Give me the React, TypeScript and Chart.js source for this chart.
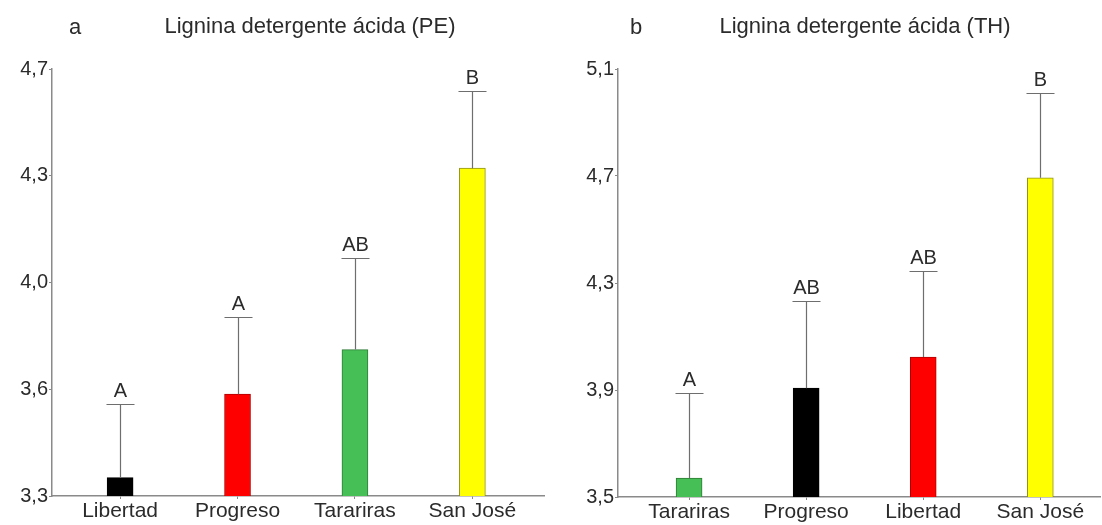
import React, { useEffect, useRef } from "react";
import { Chart, registerables } from "chart.js";

Chart.register(...registerables);

// ---------- Data ----------
const panelLetterPE = "a";
const titlePE = "Lignina detergente ácida (PE)";
const categoriesPE = ["Libertad", "Progreso", "Tarariras", "San José"];
const meansPE = [3.36, 3.634, 3.78, 4.375];
const upperPE = [3.602, 3.887, 4.08, 4.628];
const lettersPE = ["A", "A", "AB", "B"];
const yTickValuesPE = [3.3, 3.65, 4.0, 4.35, 4.7];
const yTickLabelsPE = ["3,3", "3,6", "4,0", "4,3", "4,7"];
const colorsPE = ["#000000", "#ff0000", "#46c056", "#ffff00"];
const bordersPE = ["#000000", "#b00000", "#2f7a35", "#8f8f1a"];

const panelLetterTH = "b";
const titleTH = "Lignina detergente ácida (TH)";
const categoriesTH = ["Tarariras", "Progreso", "Libertad", "San José"];
const meansTH = [3.571, 3.907, 4.023, 4.693];
const upperTH = [3.889, 4.233, 4.345, 5.01];
const lettersTH = ["A", "AB", "AB", "B"];
const yTickValuesTH = [3.5, 3.9, 4.3, 4.7, 5.1];
const yTickLabelsTH = ["3,5", "3,9", "4,3", "4,7", "5,1"];
const colorsTH = ["#46c056", "#000000", "#ff0000", "#ffff00"];
const bordersTH = ["#2f7a35", "#000000", "#b00000", "#8f8f1a"];

const FONT = "'Liberation Sans', Arial, sans-serif";
const AXIS = "#8a8a8a";
const TEXT = "#2b2b2b";

interface PanelCfg {
  letter: string;
  title: string;
  categories: string[];
  means: number[];
  upper: number[];
  letters: string[];
  yTicks: number[];
  yLabels: string[];
  colors: string[];
  borders: string[];
  xMin: number;
  xMax: number;
  yAxisWidth: number;
  xAxisHeight: number;
  padRight: number;
  letterX: number;
  titleX: number;
}

function makeChart(canvas: HTMLCanvasElement, p: PanelCfg) {
  const errPlugin = {
    id: "errbars",
    afterDatasetsDraw(chart: any) {
      const ctx = chart.ctx;
      const meta = chart.getDatasetMeta(0);
      const ys = chart.scales.y;
      ctx.save();
      meta.data.forEach((el: any, i: number) => {
        const top = Math.round(ys.getPixelForValue(p.upper[i])) + 0.5;
        const x = Math.round(el.x) + 0.5;
        ctx.strokeStyle = "#6e6e6e";
        ctx.lineWidth = 1.2;
        ctx.beginPath();
        ctx.moveTo(x, el.y);
        ctx.lineTo(x, top);
        ctx.moveTo(x - 14, top);
        ctx.lineTo(x + 14, top);
        ctx.stroke();
        ctx.fillStyle = TEXT;
        ctx.font = `20px ${FONT}`;
        ctx.textAlign = "center";
        ctx.textBaseline = "alphabetic";
        ctx.fillText(p.letters[i], x, top - 8);
      });
      ctx.restore();
    },
    afterDraw(chart: any) {
      const ctx = chart.ctx;
      ctx.save();
      ctx.fillStyle = TEXT;
      ctx.textBaseline = "alphabetic";
      ctx.textAlign = "center";
      ctx.font = `22px ${FONT}`;
      ctx.fillText(p.letter, p.letterX, 34);
      ctx.fillText(p.title, p.titleX, 33);
      ctx.restore();
    },
  };

  return new Chart(canvas, {
    type: "bar",
    data: {
      datasets: [
        {
          data: p.means.map((v, i) => ({ x: i, y: v })),
          backgroundColor: p.colors,
          borderColor: p.borders,
          borderWidth: 1,
          barThickness: 26,
        },
      ],
    },
    options: {
      animation: false,
      responsive: false,
      maintainAspectRatio: false,
      layout: { padding: { top: 69, right: p.padRight, left: 0, bottom: 0 } },
      plugins: { legend: { display: false }, tooltip: { enabled: false }, title: { display: false } },
      scales: {
        x: {
          type: "linear",
          offset: false,
          min: p.xMin,
          max: p.xMax,
          afterBuildTicks: (s: any) => {
            s.ticks = p.categories.map((_, i) => ({ value: i }));
          },
          afterFit: (s: any) => {
            s.height = p.xAxisHeight;
          },
          ticks: {
            callback: (v: any) => p.categories[v as number] ?? "",
            color: TEXT,
            font: { family: FONT, size: 21 },
            padding: 0,
            maxRotation: 0,
            autoSkip: false,
          },
          grid: { offset: false, drawOnChartArea: false, drawTicks: true, tickLength: 3, color: AXIS },
          border: { display: true, color: AXIS, width: 1.5 },
        },
        y: {
          min: p.yTicks[0],
          max: p.yTicks[p.yTicks.length - 1],
          afterBuildTicks: (s: any) => {
            s.ticks = p.yTicks.map((v) => ({ value: v }));
          },
          afterFit: (s: any) => {
            s.width = p.yAxisWidth;
          },
          ticks: {
            callback: (_v: any, i: number) => p.yLabels[i],
            color: TEXT,
            font: { family: FONT, size: 20 },
            padding: 1,
          },
          grid: { drawOnChartArea: false, drawTicks: true, tickLength: 3, color: AXIS },
          border: { display: true, color: AXIS, width: 1.5 },
        },
      },
    },
    plugins: [errPlugin],
  } as any);
}

const panelPE: PanelCfg = {
  letter: panelLetterPE,
  title: titlePE,
  categories: categoriesPE,
  means: meansPE,
  upper: upperPE,
  letters: lettersPE,
  yTicks: yTickValuesPE,
  yLabels: yTickLabelsPE,
  colors: colorsPE,
  borders: bordersPE,
  xMin: -0.58,
  xMax: 3.61,
  yAxisWidth: 52,
  xAxisHeight: 29,
  padRight: 7,
  letterX: 75,
  titleX: 310,
};

const panelTH: PanelCfg = {
  letter: panelLetterTH,
  title: titleTH,
  categories: categoriesTH,
  means: meansTH,
  upper: upperTH,
  letters: lettersTH,
  yTicks: yTickValuesTH,
  yLabels: yTickLabelsTH,
  colors: colorsTH,
  borders: bordersTH,
  xMin: -0.607,
  xMax: 3.51,
  yAxisWidth: 67,
  xAxisHeight: 28,
  padRight: 2,
  letterX: 85,
  titleX: 314,
};

export default function App() {
  const leftRef = useRef<HTMLCanvasElement>(null);
  const rightRef = useRef<HTMLCanvasElement>(null);

  useEffect(() => {
    const c1 = makeChart(leftRef.current!, panelPE);
    const c2 = makeChart(rightRef.current!, panelTH);
    return () => {
      c1.destroy();
      c2.destroy();
    };
  }, []);

  return (
    <div style={{ position: "absolute", left: 0, top: 0, width: 1102, height: 525, background: "#fff" }}>
      <canvas ref={leftRef} width={551} height={525} style={{ position: "absolute", left: 0, top: 0, width: 551, height: 525 }} />
      <canvas ref={rightRef} width={551} height={525} style={{ position: "absolute", left: 551, top: 0, width: 551, height: 525 }} />
    </div>
  );
}
